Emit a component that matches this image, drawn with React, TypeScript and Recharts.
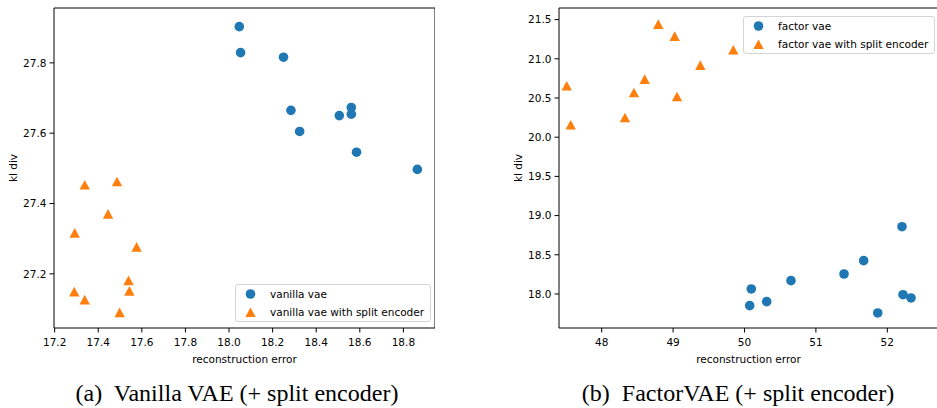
import { ScatterChart, Scatter, XAxis, YAxis, ReferenceArea, Legend } from "recharts"

const BLUE = "#1f77b4"
const ORANGE = "#ff7f0e"
const FONT = "DejaVu Sans"

// (a) vanilla VAE, with and without split encoder
const vanillaRecon = [18.047, 18.053, 18.25, 18.284, 18.324, 18.506, 18.561, 18.561, 18.585, 18.864]
const vanillaKl = [27.903, 27.829, 27.816, 27.665, 27.605, 27.65, 27.673, 27.654, 27.546, 27.497]
const vanillaSplitRecon = [17.338, 17.486, 17.445, 17.292, 17.576, 17.539, 17.29, 17.543, 17.338, 17.498]
const vanillaSplitKl = [27.453, 27.462, 27.37, 27.316, 27.276, 27.181, 27.149, 27.151, 27.126, 27.09]
const vanillaXTicks = [17.2, 17.4, 17.6, 17.8, 18.0, 18.2, 18.4, 18.6, 18.8]
const vanillaYTicks = [27.2, 27.4, 27.6, 27.8]

// (b) FactorVAE, with and without split encoder
const factorRecon = [52.206, 51.669, 51.394, 50.651, 50.095, 50.073, 50.311, 52.22, 52.332, 51.866]
const factorKl = [18.858, 18.425, 18.255, 18.17, 18.064, 17.851, 17.902, 17.991, 17.949, 17.758]
const factorSplitRecon = [48.793, 49.022, 49.843, 49.381, 48.602, 48.452, 49.055, 47.51, 47.566, 48.326]
const factorSplitKl = [21.44, 21.287, 21.112, 20.917, 20.738, 20.568, 20.517, 20.653, 20.156, 20.249]
const factorXTicks = [48, 49, 50, 51, 52]
const factorYTicks = [18.0, 18.5, 19.0, 19.5, 20.0, 20.5, 21.0, 21.5]

const toPoints = (xs: number[], ys: number[]) => xs.map((x, i) => ({ x, y: ys[i] }))

const Dot = (props: any) => <circle cx={props.cx} cy={props.cy} r={4.8} fill={BLUE} />

const Tri = (props: any) => {
  const { cx, cy } = props
  return <polygon points={`${cx},${cy - 5} ${cx - 5.2},${cy + 4.6} ${cx + 5.2},${cy + 4.6}`} fill={ORANGE} />
}

function LegendBox({ payload }: any) {
  return (
    <div
      style={{
        border: "1px solid #d4d4d4",
        borderRadius: 3,
        background: "rgba(255,255,255,0.8)",
        height: 36,
        fontFamily: FONT,
        fontSize: 10.5,
        color: "#000",
        boxSizing: "content-box",
      }}
    >
      {(payload ?? []).map((entry: any) => (
        <div key={entry.value} style={{ height: 18, display: "flex", alignItems: "center" }}>
          <svg width={34} height={18} style={{ display: "block" }}>
            {entry.type === "triangle" ? (
              <Tri cx={14.5} cy={9.5} />
            ) : (
              <circle cx={14.5} cy={9} r={4.8} fill={BLUE} />
            )}
          </svg>
          <span style={{ whiteSpace: "nowrap", paddingRight: 6 }}>{entry.value}</span>
        </div>
      ))}
    </div>
  )
}

type PanelProps = {
  width: number
  yAxisWidth: number
  xDomain: [number, number]
  yDomain: [number, number]
  xTicks: number[]
  yTicks: number[]
  xDigits: number
  base: { x: number; y: number }[]
  split: { x: number; y: number }[]
  baseName: string
  splitName: string
  legendPos: { left: number; top: number }
  yLabelOffset: number
}

function Panel(p: PanelProps) {
  const tick = { fill: "#000", fontSize: 10.5, fontFamily: FONT }
  return (
    <ScatterChart width={p.width} height={366} margin={{ top: 8, right: 0, bottom: 0, left: 0 }}>
      <XAxis
        type="number"
        dataKey="x"
        domain={p.xDomain}
        ticks={p.xTicks}
        tickFormatter={(v: number) => v.toFixed(p.xDigits)}
        axisLine={false}
        tickLine={{ stroke: "#000" }}
        tickSize={4.5}
        tickMargin={6}
        tick={tick}
        height={38}
        interval={0}
        label={{ value: "reconstruction error", position: "insideBottom", offset: 3, fill: "#000", fontSize: 10.5, fontFamily: FONT }}
      />
      <YAxis
        type="number"
        dataKey="y"
        domain={p.yDomain}
        ticks={p.yTicks}
        tickFormatter={(v: number) => v.toFixed(1)}
        axisLine={false}
        tickLine={{ stroke: "#000" }}
        tickSize={4.5}
        tickMargin={3}
        tick={tick}
        width={p.yAxisWidth}
        interval={0}
        label={{
          value: "kl div",
          angle: -90,
          position: "insideLeft",
          offset: p.yLabelOffset,
          fill: "#000",
          fontSize: 10.5,
          fontFamily: FONT,
          style: { textAnchor: "middle" },
        }}
      />
      <ReferenceArea
        x1={p.xDomain[0]}
        x2={p.xDomain[1]}
        y1={p.yDomain[0]}
        y2={p.yDomain[1]}
        fill="none"
        stroke="#000"
        strokeWidth={1}
        ifOverflow="visible"
      />
      <Scatter name={p.baseName} data={p.base} fill={BLUE} legendType="circle" shape={Dot} isAnimationActive={false} />
      <Scatter name={p.splitName} data={p.split} fill={ORANGE} legendType="triangle" shape={Tri} isAnimationActive={false} />
      <Legend
        layout="horizontal"
        verticalAlign="middle"
        align="center"
        content={LegendBox}
        wrapperStyle={{ left: p.legendPos.left, top: p.legendPos.top, width: "auto", height: "auto" }}
      />
    </ScatterChart>
  )
}

const captionStyle = {
  position: "absolute" as const,
  top: 378,
  width: 470,
  textAlign: "center" as const,
  fontFamily: "Liberation Serif",
  fontSize: 24,
  lineHeight: "30px",
  color: "#000",
}

export default function App() {
  return (
    <div style={{ position: "absolute", left: 0, top: 0, width: 937, height: 408, overflow: "hidden", background: "#fff" }}>
      <div style={{ position: "absolute", left: 0, top: 0 }}>
        <Panel
          width={435}
          yAxisWidth={54}
          xDomain={[17.197, 18.945]}
          yDomain={[27.046, 27.956]}
          xTicks={vanillaXTicks}
          yTicks={vanillaYTicks}
          xDigits={1}
          base={toPoints(vanillaRecon, vanillaKl)}
          split={toPoints(vanillaSplitRecon, vanillaSplitKl)}
          baseName="vanilla vae"
          splitName="vanilla vae with split encoder"
          legendPos={{ left: 235, top: 284 }}
          yLabelOffset={13}
        />
      </div>
      <div style={{ position: "absolute", left: 470, top: 0 }}>
        <Panel
          width={468}
          yAxisWidth={89}
          xDomain={[47.402, 52.71]}
          yDomain={[17.566, 21.648]}
          xTicks={factorXTicks}
          yTicks={factorYTicks}
          xDigits={0}
          base={toPoints(factorRecon, factorKl)}
          split={toPoints(factorSplitRecon, factorSplitKl)}
          baseName="factor vae"
          splitName="factor vae with split encoder"
          legendPos={{ left: 273, top: 15.5 }}
          yLabelOffset={48}
        />
      </div>
      <div style={{ ...captionStyle, left: 2 }}>(a)&nbsp; Vanilla VAE (+ split encoder)</div>
      <div style={{ ...captionStyle, left: 503 }}>(b)&nbsp; FactorVAE (+ split encoder)</div>
    </div>
  )
}
